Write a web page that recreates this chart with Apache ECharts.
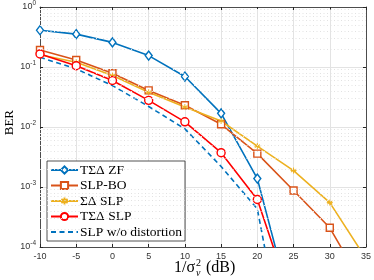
<!DOCTYPE html>
<html><head><meta charset="utf-8">
<script src="https://cdn.jsdelivr.net/npm/echarts@6/dist/echarts.min.js"></script>
<style>html,body{margin:0;padding:0;background:#fff}#c{width:374px;height:280px}</style>
</head><body><div id="c"></div>
<script>
var xs = [-10, -5, 0, 5, 10, 15, 20, 25, 30, 35];
var zfBER = [0.41, 0.353, 0.257, 0.155, 0.0693, 0.0169, 0.00138, 7e-6];
var slpBoBER = [0.192, 0.131, 0.0787, 0.0407, 0.023, 0.0111, 0.0036, 8.75e-4, 2.09e-4, 1.9e-5];
var sdSlpBER = [0.16, 0.12, 0.072, 0.038, 0.0215, 0.0126, 0.0048, 0.00188, 5.5e-4, 6.4e-5];
var tsdSlpBER = [0.165, 0.105, 0.0596, 0.0278, 0.0122, 0.00373, 6.2e-4, 1e-5];
var noDistBER = [0.145, 0.093, 0.049, 0.022, 0.0093, 0.0022, 4.3e-4, 3e-7];
var xMin = -10, xMax = 35;
var minorYTicks = [];
[1e-4, 1e-3, 1e-2, 1e-1].forEach(function (d) { for (var k = 2; k <= 9; k++) minorYTicks.push(d * k); });

function pairs(v) { return v.map(function (y, i) { return [xs[i], y]; }); }
var serif = 'Liberation Serif';
var sans = 'Liberation Sans';
var star = 'path://M0,-10L0,10M-8.7,-5L8.7,5M-8.7,5L8.7,-5M-10,0L10,0';

function mk(name, data, color, symbol, size, dashed, bw) {
  return {
    name: name, type: 'line', data: pairs(data), clip: true, z: 3,
    symbol: symbol, symbolSize: size, showSymbol: !dashed,
    lineStyle: { color: color, width: 1.6, type: dashed ? [5, 3.5] : 'solid' },
    itemStyle: { color: '#fff', borderColor: color, borderWidth: bw || 1.4 },
    emphasis: { disabled: true }, animation: false
  };
}

var chart = echarts.init(document.getElementById('c'), null, { renderer: 'canvas' });
var axisCol = '#262626';
chart.setOption({
  animation: false,
  grid: { left: 40, right: 6, top: 6, bottom: 33 },
  xAxis: [{
    type: 'value', min: xMin, max: xMax, interval: 5,
    axisLine: { onZero: false, lineStyle: { color: axisCol, width: 0.8 } },
    axisTick: { inside: true, length: 3, lineStyle: { color: axisCol } },
    axisLabel: { fontFamily: sans, fontSize: 9, color: '#333', margin: 5 },
    splitLine: { show: true, lineStyle: { color: '#e3e3e3', width: 1 } }
  }, {
    type: 'value', position: 'top', min: xMin, max: xMax, interval: 5,
    axisLine: { onZero: false, lineStyle: { color: axisCol, width: 0.8 } },
    axisTick: { inside: true, length: 3, lineStyle: { color: axisCol } },
    axisLabel: { show: false }, splitLine: { show: false }
  }],
  yAxis: [{
    type: 'log', logBase: 10, min: 1e-4, max: 1,
    axisLine: { show: true, onZero: false, lineStyle: { color: axisCol, width: 0.8 } },
    axisTick: { show: true, inside: true, length: 3, lineStyle: { color: axisCol } },
    axisLabel: {
      margin: 4,
      formatter: function (v) { var e = Math.round(Math.log10(v)); return '{b|10}{e|' + e + '}'; },
      rich: {
        b: { fontFamily: sans, fontSize: 9, color: '#333' },
        e: { fontFamily: sans, fontSize: 6.5, color: '#333', verticalAlign: 'top', padding: [0, 0, 7, 0] }
      }
    },
    splitLine: { show: true, lineStyle: { color: '#e3e3e3', width: 1 } }
  }, {
    type: 'log', logBase: 10, min: 1e-4, max: 1, position: 'right',
    axisLine: { show: true, onZero: false, lineStyle: { color: axisCol, width: 0.8 } },
    axisTick: { show: true, inside: true, length: 3, lineStyle: { color: axisCol } },
    axisLabel: { show: false }, splitLine: { show: false }
  }],
  legend: {
    orient: 'vertical', left: 47, top: 161, itemWidth: 27, itemHeight: 9, itemGap: 1.5,
    backgroundColor: '#fff', borderColor: axisCol, borderWidth: 0.8, borderRadius: 0,
    padding: [2, 3, 2, 3],
    textStyle: { fontFamily: serif, fontSize: 13.5, color: '#000', padding: [0, 0, 0, -3] },
    data: ['T\u03A3\u0394 ZF', 'SLP-BO', '\u03A3\u0394 SLP', 'T\u03A3\u0394 SLP',
      { name: 'SLP w/o distortion', itemStyle: { opacity: 0 } }]
  },
  graphic: [
    { type: 'text', left: 174, top: 260, style: { text: '1/\u03C3', font: '16px "Liberation Serif"', fill: '#000' } },
    { type: 'text', left: 196, top: 258, style: { text: '2', font: '10px "Liberation Serif"', fill: '#000' } },
    { type: 'text', left: 196, top: 268, style: { text: 'v', font: 'italic 10px "Liberation Serif"', fill: '#000' } },
    { type: 'text', left: 206, top: 260, style: { text: '(dB)', font: '16px "Liberation Serif"', fill: '#000' } },
    { type: 'text', left: 3, top: 110, rotation: Math.PI / 2, style: { text: 'BER', font: '13px "Liberation Serif"', fill: '#000' } }
  ],
  series: [
    {
      name: 'minorgrid', type: 'line', data: [], z: 1, silent: true,
      markLine: {
        silent: true, symbol: 'none', label: { show: false }, animation: false,
        lineStyle: { color: '#e2e2e2', type: [1, 2.5], width: 1 },
        data: minorYTicks.map(function (v) { return [{ coord: [xMin, v] }, { coord: [xMax, v] }]; })
      }
    },
    mk('T\u03A3\u0394 ZF', zfBER, '#0072BD', 'diamond', [7, 9], false),
    mk('SLP-BO', slpBoBER, '#D95319', 'rect', 7, false),
    mk('\u03A3\u0394 SLP', sdSlpBER, '#EDB120', star, 6, false, 1),
    mk('T\u03A3\u0394 SLP', tsdSlpBER, '#FF0000', 'circle', 8, false),
    mk('SLP w/o distortion', noDistBER, '#0072BD', 'none', 0, true)
  ]
});
</script></body></html>
